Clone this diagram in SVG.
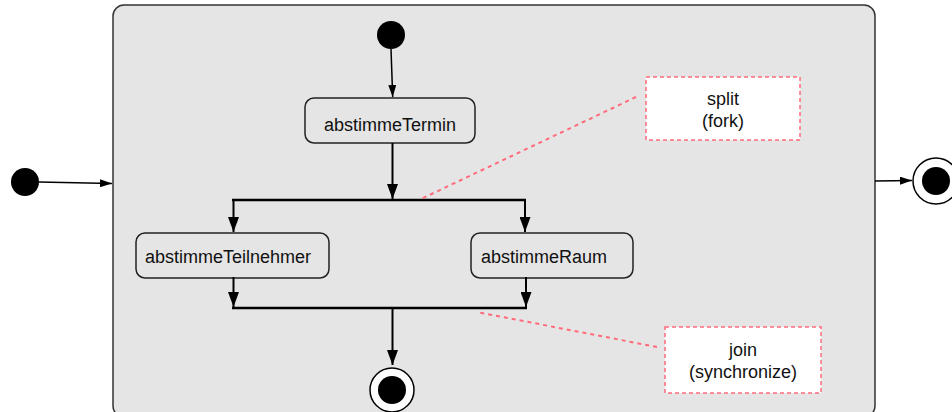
<svg xmlns="http://www.w3.org/2000/svg" width="952" height="412" viewBox="0 0 952 412">
<style>
.lbl{font-family:"Liberation Sans",Arial,sans-serif;font-size:18px;fill:#111}
.state{fill:#e5e5e5;stroke:#222;stroke-width:1.5}
.note{fill:#fff;stroke:#ff6b7a;stroke-width:1.5;stroke-dasharray:4 3}
.conn{stroke:#000;stroke-width:2;fill:none}
.thin{stroke:#000;stroke-width:1.5;fill:none}
.dash{stroke:#ff6b7a;stroke-width:2;stroke-dasharray:4 4;fill:none}
.bar{stroke:#000;stroke-width:2.5;fill:none}
</style>
<defs>
<marker id="arr" viewBox="0 0 15 11" refX="15" refY="5.5" markerWidth="15" markerHeight="11" markerUnits="userSpaceOnUse" orient="auto">
<path d="M0,0 L15,5.5 L0,11 z" fill="#000"/>
</marker>
<marker id="arrS" viewBox="0 0 12 8" refX="12" refY="4" markerWidth="12" markerHeight="8" markerUnits="userSpaceOnUse" orient="auto">
<path d="M0,0 L12,4 L0,8 z" fill="#000"/>
</marker>
</defs>
<g id="composite">
<rect x="113" y="5" width="762" height="412" rx="11" fill="#e5e5e5" stroke="#333" stroke-width="1.5"/>
</g>
<g id="outer-initial"><circle cx="25" cy="182" r="14" fill="#000"/></g>
<g id="outer-final"><circle cx="936" cy="181" r="23" fill="#fff" stroke="#000" stroke-width="1.5"/><circle cx="936" cy="181" r="14" fill="#000"/></g>
<g id="inner-initial"><circle cx="391" cy="35" r="14" fill="#000"/></g>
<g id="inner-final"><circle cx="392" cy="390" r="22" fill="#fff" stroke="#000" stroke-width="1.5"/><circle cx="392" cy="390" r="14" fill="#000"/></g>
<g id="abstimmeTermin">
<rect class="state" x="305" y="98" width="170" height="45" rx="9"/>
<text class="lbl" x="390" y="131" text-anchor="middle">abstimmeTermin</text>
</g>
<g id="abstimmeTeilnehmer">
<rect class="state" x="136" y="233" width="193" height="45" rx="9"/>
<text class="lbl" x="145" y="263">abstimmeTeilnehmer</text>
</g>
<g id="abstimmeRaum">
<rect class="state" x="471" y="233" width="162" height="45" rx="9"/>
<text class="lbl" x="481" y="263">abstimmeRaum</text>
</g>
<g id="fork"><line class="bar" x1="232" y1="200" x2="526" y2="200"/></g>
<g id="join"><line class="bar" x1="232" y1="308" x2="527" y2="308"/></g>
<g id="note-split">
<rect class="note" x="646" y="77" width="154" height="63"/>
<text class="lbl" x="723" y="105" text-anchor="middle">split</text>
<text class="lbl" x="723" y="127" text-anchor="middle">(fork)</text>
</g>
<g id="note-join">
<rect class="note" x="665" y="327" width="156" height="66"/>
<text class="lbl" x="743" y="356" text-anchor="middle">join</text>
<text class="lbl" x="743" y="378" text-anchor="middle">(synchronize)</text>
</g>
<g id="connectors">
<line class="thin" x1="39" y1="182" x2="112" y2="183.5" marker-end="url(#arrS)"/>
<line class="thin" x1="875" y1="181" x2="912" y2="180.5" marker-end="url(#arrS)"/>
<line class="thin" x1="391" y1="49" x2="392.7" y2="97" marker-end="url(#arrS)"/>
<line class="conn" x1="392.5" y1="143" x2="392.5" y2="199" marker-end="url(#arr)"/>
<line class="conn" x1="233.5" y1="200" x2="233.5" y2="232" marker-end="url(#arr)"/>
<line class="conn" x1="525" y1="200" x2="525" y2="232" marker-end="url(#arr)"/>
<line class="conn" x1="233.5" y1="277" x2="233.5" y2="307" marker-end="url(#arr)"/>
<line class="conn" x1="526" y1="277" x2="526" y2="307" marker-end="url(#arr)"/>
<line class="conn" x1="392.5" y1="308" x2="392.5" y2="365" marker-end="url(#arr)"/>
<line class="dash" x1="636" y1="97" x2="421" y2="199"/>
<line class="dash" x1="657" y1="347" x2="477" y2="312"/>
</g>
</svg>
